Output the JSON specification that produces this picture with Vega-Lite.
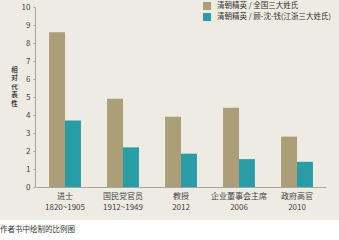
{
  "$schema": "https://vega.github.io/schema/vega-lite/v6.json",
  "width": 339,
  "height": 220,
  "autosize": {"type": "none"},
  "padding": {"left": 0, "top": 0, "right": 0, "bottom": 20},
  "background": "#ffffff",
  "config": {
    "font": "Noto Sans CJK SC",
    "view": {"fill": "#eeebe3", "stroke": null}
  },
  "title": {
    "text": "作者书中绘制的比例图",
    "orient": "bottom",
    "anchor": "start",
    "fontSize": 7.5,
    "fontWeight": "normal",
    "color": "#333333",
    "offset": 6
  },
  "data": {
    "values": [
      {"cat": "进士|1820~1905", "series": "清朝精英 / 全国三大姓氏", "value": 8.6},
      {"cat": "进士|1820~1905", "series": "清朝精英 / 顾-沈-钱(江浙三大姓氏)", "value": 3.7},
      {"cat": "国民党官员|1912~1949", "series": "清朝精英 / 全国三大姓氏", "value": 4.9},
      {"cat": "国民党官员|1912~1949", "series": "清朝精英 / 顾-沈-钱(江浙三大姓氏)", "value": 2.2},
      {"cat": "教授|2012", "series": "清朝精英 / 全国三大姓氏", "value": 3.9},
      {"cat": "教授|2012", "series": "清朝精英 / 顾-沈-钱(江浙三大姓氏)", "value": 1.85},
      {"cat": "企业董事会主席|2006", "series": "清朝精英 / 全国三大姓氏", "value": 4.4},
      {"cat": "企业董事会主席|2006", "series": "清朝精英 / 顾-沈-钱(江浙三大姓氏)", "value": 1.55},
      {"cat": "政府高官|2010", "series": "清朝精英 / 全国三大姓氏", "value": 2.8},
      {"cat": "政府高官|2010", "series": "清朝精英 / 顾-沈-钱(江浙三大姓氏)", "value": 1.4}
    ]
  },
  "mark": {"type": "bar"},
  "encoding": {
    "x": {
      "field": "cat",
      "type": "nominal",
      "sort": null,
      "scale": {"range": [36, 326], "paddingInner": 0.45, "paddingOuter": 0.225},
      "axis": {
        "title": null,
        "offset": -33,
        "labelAngle": 0,
        "labelExpr": "split(datum.label, '|')",
        "labelFontSize": 8,
        "labelLineHeight": 11,
        "labelColor": "#444444",
        "labelPadding": 5,
        "ticks": false,
        "domainColor": "#a5a5a5",
        "domainWidth": 1
      }
    },
    "xOffset": {
      "field": "series",
      "type": "nominal",
      "sort": null,
      "scale": {"paddingInner": 0, "paddingOuter": 0}
    },
    "y": {
      "field": "value",
      "type": "quantitative",
      "scale": {"domain": [0, 10], "range": [187, 7], "nice": false},
      "axis": {
        "title": ["相", "对", "代", "表", "性"],
        "titleAngle": 0,
        "titleX": -21,
        "titleY": 66,
        "titleAlign": "center",
        "titleBaseline": "top",
        "titleLineHeight": 8.5,
        "titleFontSize": 6.5,
        "titleFontWeight": "bold",
        "titleColor": "#444444",
        "offset": -35,
        "values": [0, 1, 2, 3, 4, 5, 6, 7, 8, 9, 10],
        "grid": false,
        "tickSize": 2,
        "tickColor": "#a5a5a5",
        "domainColor": "#a5a5a5",
        "labelFontSize": 8,
        "labelColor": "#444444",
        "labelPadding": 3
      }
    },
    "color": {
      "field": "series",
      "type": "nominal",
      "sort": null,
      "scale": {"range": ["#ad9e7a", "#2a9ca6"]},
      "legend": {
        "title": null,
        "orient": "none",
        "legendX": 203,
        "legendY": 2,
        "symbolType": "square",
        "symbolSize": 64,
        "symbolStrokeWidth": 0,
        "labelFontSize": 7.5,
        "labelColor": "#333333",
        "labelOffset": 6,
        "rowPadding": 3
      }
    }
  }
}
